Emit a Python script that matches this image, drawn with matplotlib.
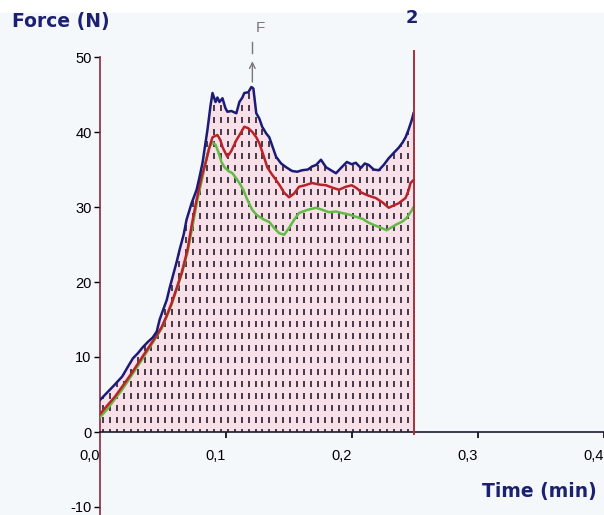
import numpy as np
import matplotlib
matplotlib.use("Agg")
import matplotlib.pyplot as plt
from matplotlib.patches import Rectangle

# time (min) and force (N)
t_blue = [0.000, 0.012, 0.018, 0.0225, 0.0264, 0.0304, 0.0343, 0.0383, 0.0422, 0.0454,
          0.0477, 0.0509, 0.0533, 0.0556, 0.058, 0.0612, 0.0635, 0.0667, 0.069, 0.073,
          0.077, 0.0793, 0.0817, 0.084, 0.0856, 0.088, 0.0896, 0.092, 0.0935, 0.0951,
          0.0975, 0.0998, 0.1014, 0.1046, 0.1085, 0.1109, 0.1133, 0.1148, 0.118, 0.1204,
          0.122, 0.1243, 0.1267, 0.129, 0.1322, 0.1346, 0.1377, 0.14, 0.144, 0.148,
          0.1527, 0.1567, 0.1606, 0.1653, 0.1685, 0.1717, 0.1756, 0.1796, 0.1835, 0.1875,
          0.1914, 0.1961, 0.2, 0.2032, 0.2072, 0.2103, 0.2135, 0.2174, 0.2214, 0.2253,
          0.2293, 0.2332, 0.2372, 0.2403, 0.2427, 0.245, 0.2474, 0.249]
f_blue = [4.2, 6.3, 7.4, 8.7, 9.8, 10.5, 11.3, 12.0, 12.6, 13.4,
          15.0, 16.5, 17.6, 19.2, 20.7, 22.7, 24.3, 26.3, 28.3, 30.5,
          32.3, 34.0, 35.9, 38.5, 40.3, 43.5, 45.2, 44.0, 44.6, 44.0,
          44.5, 43.2, 42.7, 42.8, 42.5, 44.0, 44.6, 45.2, 45.3, 46.0,
          45.8, 42.5, 41.8, 40.7, 39.8, 39.3, 37.8, 36.7, 35.8, 35.3,
          34.8, 34.7, 34.9, 35.0, 35.4, 35.6, 36.3, 35.3, 34.9, 34.5,
          35.2, 36.0, 35.7, 35.9, 35.2, 35.8, 35.6, 35.0, 34.9, 35.6,
          36.5, 37.2, 37.9, 38.6, 39.3, 40.3, 41.5, 42.5]

t_red = [0.000, 0.006, 0.0122, 0.0178, 0.0257, 0.0335, 0.0414, 0.0454, 0.0493, 0.0533,
         0.0572, 0.0612, 0.0651, 0.0698, 0.073, 0.077, 0.0809, 0.0848, 0.0872, 0.0896,
         0.0935, 0.0959, 0.0975, 0.0998, 0.1014, 0.1046, 0.1085, 0.1117, 0.1148, 0.118,
         0.1212, 0.1243, 0.1267, 0.1298, 0.133, 0.1369, 0.14, 0.1432, 0.1464, 0.1503,
         0.1543, 0.1582, 0.163, 0.1685, 0.174, 0.1796, 0.1843, 0.1898, 0.1953, 0.2,
         0.204, 0.2079, 0.2135, 0.219, 0.2245, 0.2293, 0.2332, 0.2372, 0.2403, 0.2427,
         0.245, 0.2466, 0.249]
f_red = [2.3, 3.5, 4.7, 6.0, 7.9, 9.9, 11.9, 12.9, 14.0, 15.5,
         17.2, 19.2, 21.2, 24.3, 27.5, 31.0, 34.0, 36.3, 38.0, 39.3,
         39.6, 38.9, 38.0, 37.2, 36.7, 37.5, 38.9, 39.8, 40.7, 40.5,
         40.0, 39.3, 38.5, 37.0, 35.3, 34.3, 33.6, 32.8, 31.9, 31.3,
         31.8, 32.7, 32.9, 33.2, 33.0, 32.9, 32.6, 32.3, 32.7, 32.9,
         32.5, 31.9, 31.5, 31.2, 30.6, 29.9, 30.2, 30.5, 30.9, 31.2,
         32.2, 33.2, 33.6]

t_green = [0.000, 0.006, 0.0122, 0.0178, 0.0257, 0.0335, 0.0414, 0.0493, 0.0572, 0.0651,
           0.0698, 0.0738, 0.0777, 0.0817, 0.0848, 0.0872, 0.0896, 0.092, 0.0943, 0.0967,
           0.0991, 0.1022, 0.1054, 0.1085, 0.1109, 0.114, 0.1164, 0.1188, 0.1212, 0.1243,
           0.1267, 0.1306, 0.1346, 0.1385, 0.1425, 0.1464, 0.1503, 0.1543, 0.1582, 0.1645,
           0.1717, 0.1772, 0.1819, 0.1875, 0.1922, 0.1977, 0.2032, 0.2088, 0.2135, 0.219,
           0.2237, 0.2277, 0.2316, 0.2356, 0.2395, 0.2427, 0.245, 0.2474, 0.249]
f_green = [1.9, 3.0, 4.4, 5.6, 7.6, 9.6, 11.7, 13.8, 17.0, 21.0,
           24.0, 27.5, 31.0, 34.0, 36.5, 38.0, 38.6, 38.3, 37.3, 36.0,
           35.3, 34.8, 34.5, 33.8, 33.2, 32.3, 31.3, 30.4, 29.6, 29.0,
           28.7, 28.3, 28.0, 27.2, 26.5, 26.3, 27.2, 28.3, 29.2, 29.6,
           29.9, 29.6, 29.3, 29.4, 29.2, 29.0, 28.7, 28.4, 27.9, 27.5,
           27.2, 26.9, 27.3, 27.7, 28.0, 28.4, 28.9, 29.5, 30.0]

y_ticks = [-10, 0, 10, 20, 30, 40, 50]
x_ticks = [0.0, 0.1, 0.2, 0.3, 0.4]
x_labels = ["0,0", "0,1", "0,2", "0,3", "0,4"]
t_end = 0.249
peak_t = 0.1212

W, H = 604, 515
fig = plt.figure(figsize=(W / 100, H / 100), dpi=100)
fig.patch.set_facecolor("#f4f8fb")
# white strip along the top edge, behind everything
fig.patches.append(Rectangle((0, 1 - 13 / H), 1, 13 / H, transform=fig.transFigure,
                             facecolor="white", edgecolor="none", zorder=-5))

# axes span whole height; 0 min at x=99.5px, 0 N at y=432px
px_per_min = 1267.0
px_per_n = 7.5
ax = fig.add_axes([99.5 / W, 0, (W - 99.5) / W, 1])
ax.patch.set_alpha(0)
ax.set_xlim(0, (W - 99.5) / px_per_min)
ax.set_ylim(-(H - 432) / px_per_n, 432 / px_per_n)

# shaded area under the top curve with dotted texture
poly = ax.fill_between(t_blue, 0, f_blue, facecolor="#f8e0e9", edgecolor="none", zorder=1)
gx, gy = np.meshgrid(np.arange(0.0027, t_end, 0.0055), np.arange(0, 48, 1.6))
dots = ax.scatter(gx.ravel(), gy.ravel(), marker="|", s=14, linewidths=1.3,
                  color="#3a2c3c", zorder=2)
dots.set_clip_path(poly.get_paths()[0], ax.transData)

ax.plot(t_green, f_green, color="#62bb45", lw=1.8, zorder=3)
ax.plot(t_red, f_red, color="#b8232a", lw=1.8, zorder=4)
ax.plot(t_blue, f_blue, color="#1b1b78", lw=1.8, zorder=5)

# end marker "2"
ax.plot([t_end, t_end], [-0.3, 50.8], color="#a8303c", lw=1.4, zorder=6)
ax.text(t_end - 0.0015, 55.2, "2", color="#1c2070", fontsize=13, fontweight="bold",
        ha="center", va="center", zorder=7)

# "F" marker above max force
ax.annotate("", xy=(peak_t, 49.8), xytext=(peak_t, 46.3),
            arrowprops=dict(arrowstyle="->", color="#777777", lw=1.0), zorder=6)
ax.plot([peak_t, peak_t], [50.6, 52.0], color="#777777", lw=1.0)
ax.text(peak_t + 0.006, 53.9, "F", color="#777777", fontsize=11,
        family="Liberation Sans", ha="center", va="center")

for s in ["top", "right"]:
    ax.spines[s].set_visible(False)
ax.spines["left"].set_color("#8a2a3a")
ax.spines["left"].set_linewidth(1.2)
ax.spines["left"].set_bounds(ax.get_ylim()[0], 50)
ax.spines["bottom"].set_position(("data", 0))
ax.spines["bottom"].set_color("#1a1a30")
ax.spines["bottom"].set_linewidth(1.2)

ax.set_yticks(y_ticks)
ax.set_yticklabels([str(v) for v in y_ticks], family="Liberation Sans", fontsize=10.5)
ax.tick_params(axis="y", direction="out", length=4.5, width=1, pad=1.2, colors="black")
ax.set_xticks(x_ticks)
ax.set_xticklabels(x_labels, family="Liberation Sans", fontsize=10.5)
ax.tick_params(axis="x", direction="out", length=4, width=1.2, pad=8, colors="black")
for lbl in ax.get_xticklabels():
    lbl.set_ha("right")
ax.xaxis.get_major_ticks()[0].tick1line.set_visible(False)

fig.text(12 / W, 1 - 21 / H, "Force (N)", color="#1c2070", fontsize=13.5,
         fontweight="bold", ha="left", va="center")
fig.text(597 / W, 1 - 492 / H, "Time (min)", color="#1c2070", fontsize=13.5,
         fontweight="bold", ha="right", va="center")

fig.savefig("out.png", dpi=100, facecolor=fig.get_facecolor())
